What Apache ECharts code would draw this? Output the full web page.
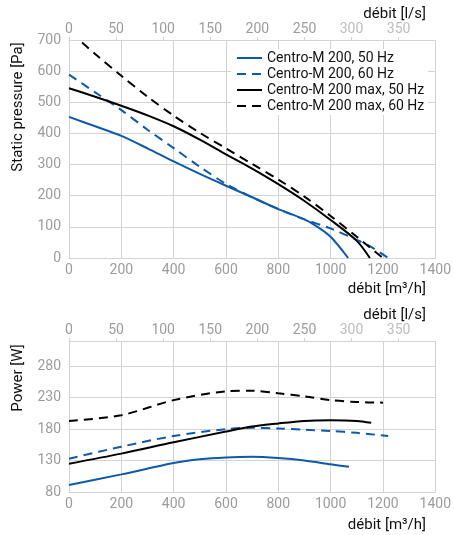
<!DOCTYPE html>
<html><head><meta charset="utf-8">
<script src="https://cdn.jsdelivr.net/npm/echarts@6/dist/echarts.min.js"></script>
<style>html,body{margin:0;padding:0;background:#fff}#c{width:454px;height:535px}</style>
</head><body><div id="c"></div>
<script>
// ---- data (x in m3/h) ----
const seriesNames = ['Centro-M 200, 50 Hz','Centro-M 200, 60 Hz','Centro-M 200 max, 50 Hz','Centro-M 200 max, 60 Hz'];
// Static pressure [Pa]
const p50 = [[0,453],[100,423],[200,392],[300,352],[400,310],[500,270],[600,232],[700,195],[800,157],[900,124],[950,100],[1000,68],[1067,0]];
const p60 = [[0,589],[100,532],[200,475],[300,412],[400,353],[500,293],[600,238],[700,195],[800,157],[900,124],[1000,95],[1100,58],[1150,38],[1220,0]];
const pMax50 = [[0,545],[100,518],[200,489],[300,458],[400,423],[500,380],[600,333],[700,287],[800,237],[900,183],[1000,122],[1100,55],[1150,0]];
const pMax60 = [[50,692],[100,655],[200,585],[300,518],[400,457],[500,402],[600,352],[700,302],[800,252],[900,197],[1000,135],[1100,68],[1200,0]];
// Power [W]
const w50 = [[0,91],[200,108],[400,126],[500,132],[600,135],[700,136],[800,134],[900,130],[1000,124],[1070,120]];
const w60 = [[0,133],[200,152],[400,169],[600,180],[700,182],[800,181],[900,179],[1000,177],[1100,174],[1220,169]];
const wMax50 = [[0,125],[200,141],[400,159],[600,176],[700,184],[800,189],[900,193],[1000,194],[1100,193],[1155,190]];
const wMax60 = [[0,193],[200,202],[400,226],[600,240],[700,241],[800,237],[900,232],[1000,226],[1100,223],[1200,222]];

const BLUE = '#0f5aa8', BLACK = '#000000', GRID = '#d3d3d3', LBL = '#9c9c9c';
const FONT = 'Roboto';
const M3H_MAX = 1400, LS_MAX = 1400/3.6;
const plain = function(v){ return String(v); };

function xBottom(gi){
  return {type:'value', gridIndex:gi, position:'bottom', min:0, max:M3H_MAX, interval:200,
    axisLine:{show:true,lineStyle:{color:GRID,width:1}}, axisTick:{show:false},
    splitLine:{show:true,lineStyle:{color:GRID,width:1}},
    axisLabel:{color:LBL,fontSize:14,fontFamily:FONT,margin:5,formatter:plain}};
}
function xTop(gi){
  return {type:'value', gridIndex:gi, position:'top', min:0, max:LS_MAX, interval:50,
    axisLine:{show:true,lineStyle:{color:GRID,width:1}},
    axisTick:{show:true,length:3,lineStyle:{color:GRID}},
    splitLine:{show:false},
    axisLabel:{fontSize:14,fontFamily:FONT,margin:4,showMaxLabel:false,formatter:plain,
      color:function(v){return v>=300?'#bdbdbd':LBL;}}};
}
function yAx(gi,min,max,interval){
  return {type:'value', gridIndex:gi, min:min, max:max, interval:interval,
    axisLine:{show:true,lineStyle:{color:GRID,width:1}}, axisTick:{show:false},
    splitLine:{show:true,lineStyle:{color:GRID,width:1}},
    axisLabel:{color:LBL,fontSize:14,fontFamily:FONT,margin:8,showMaxLabel:gi===0,formatter:plain}};
}
function line(name,data,color,dashed,xi,yi){
  return {type:'line', name:name, data:data, xAxisIndex:xi, yAxisIndex:yi,
    symbol:'none', smooth:0.3, color:color,
    itemStyle:{color:color},
    lineStyle:{color:color,width:2,type:dashed?[9,6]:'solid'}, animation:false};
}
const axisNameStyle = {fontSize:15, fontFamily:FONT, fill:'#111'};
const chart = echarts.init(document.getElementById('c'), null, {renderer:'canvas'});
chart.setOption({
  animation:false,
  backgroundColor:'#fff',
  grid:[{left:69,right:12,top:40,height:218},{left:69,right:12,top:341,height:151}],
  xAxis:[xBottom(0), xTop(0), xBottom(1), xTop(1)],
  yAxis:[yAx(0,0,700,100), yAx(1,80,320,50)],
  legend:{data:seriesNames, orient:'vertical', left:231, top:49, itemWidth:25, itemHeight:14, itemGap:2,
    backgroundColor:'#fff', padding:[2,4,2,5],
    itemStyle:{opacity:0, borderWidth:0},
    textStyle:{fontSize:14,fontFamily:FONT,color:'#111'}},
  series:[
    line(seriesNames[0],p50,BLUE,false,0,0),
    line(seriesNames[1],p60,BLUE,true,0,0),
    line(seriesNames[2],pMax50,BLACK,false,0,0),
    line(seriesNames[3],pMax60,BLACK,true,0,0),
    line(seriesNames[0],w50,BLUE,false,2,1),
    line(seriesNames[1],w60,BLUE,true,2,1),
    line(seriesNames[2],wMax50,BLACK,false,2,1),
    line(seriesNames[3],wMax60,BLACK,true,2,1)
  ],
  graphic:[
    {type:'text', x:426, y:14, style:Object.assign({text:'débit [l/s]', align:'right', verticalAlign:'middle'},axisNameStyle)},
    {type:'text', x:426, y:289, style:Object.assign({text:'débit [m³/h]', align:'right', verticalAlign:'middle'},axisNameStyle)},
    {type:'text', x:426, y:315, style:Object.assign({text:'débit [l/s]', align:'right', verticalAlign:'middle'},axisNameStyle)},
    {type:'text', x:426, y:525, style:Object.assign({text:'débit [m³/h]', align:'right', verticalAlign:'middle'},axisNameStyle)},
    {type:'text', x:18, y:107, rotation:Math.PI/2, style:Object.assign({text:'Static pressure [Pa]', align:'center', verticalAlign:'middle'},axisNameStyle)},
    {type:'text', x:18, y:378, rotation:Math.PI/2, style:Object.assign({text:'Power [W]', align:'center', verticalAlign:'middle'},axisNameStyle)}
  ]
});
</script></body></html>
